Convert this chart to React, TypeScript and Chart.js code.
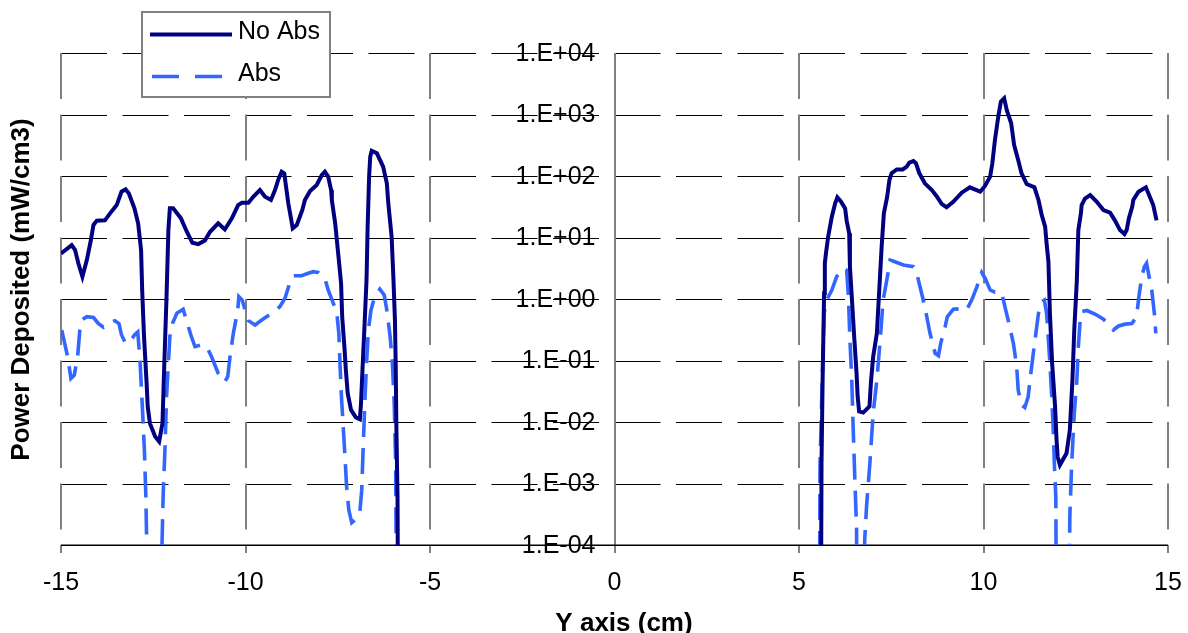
import { useEffect, useRef } from "react";
import { Chart, registerables } from "chart.js";

Chart.register(...registerables);

const FONT = "'Liberation Sans', Arial, Helvetica, sans-serif";

const seriesNames = ["No Abs", "Abs"];
const seriesColors = ["#000080", "#3366FF"];

const xTicks = [-15, -10, -5, 0, 5, 10, 15];
const yTickValues = [1e4, 1e3, 1e2, 1e1, 1e0, 1e-1, 1e-2, 1e-3, 1e-4];
const yTickLabels = ["1.E+04", "1.E+03", "1.E+02", "1.E+01", "1.E+00", "1.E-01", "1.E-02", "1.E-03", "1.E-04"];

const xTitle = "Y axis (cm)";
const yTitle = "Power Deposited (mW/cm3)";

// Power deposited without absorber (null marks the gap between the two halves)
const noAbsX = [
  -15.0, -14.71, -14.62, -14.53, -14.42, -14.3, -14.19, -14.12, -14.03, -13.81, -13.67, -13.49, -13.36, -13.25,
  -13.16, -13.01, -12.91, -12.83, -12.8, -12.75, -12.68, -12.65, -12.59, -12.45, -12.34, -12.25, -12.2, -12.14,
  -12.09, -12.05, -11.96, -11.75, -11.59, -11.44, -11.28, -11.1, -10.96, -10.74, -10.56, -10.37, -10.2, -10.1,
  -9.92, -9.79, -9.61, -9.47, -9.31, -9.2, -9.11, -9.02, -8.95, -8.84, -8.72, -8.61, -8.46, -8.39, -8.25, -8.07,
  -7.93, -7.85, -7.76, -7.68, -7.66, -7.57, -7.48, -7.41, -7.38, -7.32, -7.28, -7.23, -7.14, -7.01, -6.9, -6.87,
  -6.83, -6.78, -6.72, -6.69, -6.65, -6.62, -6.58, -6.44, -6.27, -6.17, -6.13, -6.04, -5.99, -5.95, -5.93, -5.91,
  -5.88, -5.86,
  0,
  5.59, 5.61, 5.64, 5.66, 5.68, 5.7, 5.73, 5.79, 5.89, 5.98, 6.04, 6.13, 6.25, 6.29, 6.36, 6.38, 6.43, 6.49, 6.56,
  6.59, 6.63, 6.74, 6.91, 6.95, 7.01, 7.11, 7.15, 7.2, 7.24, 7.3, 7.39, 7.45, 7.51, 7.65, 7.81, 7.92, 7.99, 8.1,
  8.17, 8.26, 8.41, 8.6, 8.73, 8.87, 9.0, 9.18, 9.41, 9.63, 9.91, 10.04, 10.18, 10.24, 10.31, 10.4, 10.47, 10.56,
  10.63, 10.75, 10.83, 10.94, 11.03, 11.17, 11.38, 11.49, 11.58, 11.67, 11.71, 11.76, 11.8, 11.86, 11.94, 11.98,
  12.01, 12.07, 12.25, 12.34, 12.41, 12.46, 12.53, 12.57, 12.64, 12.66, 12.75, 12.89, 13.07, 13.25, 13.43, 13.56,
  13.7, 13.82, 13.88, 13.94, 14.03, 14.06, 14.2, 14.4, 14.47, 14.6, 14.69,
];
const noAbsY = [
  5.5, 7.5, 6.3, 3.8, 2.3, 4.3, 9.1, 16, 18.8, 19, 24.7, 33.7, 55.6, 60.7,
  52, 29.8, 17, 6.3, 1.4, 0.244, 0.0427, 0.0178, 0.0095, 0.0058, 0.0048, 0.0095, 0.09, 1.09,
  13.2, 29.8, 29.8, 20.5, 12.4, 8.2, 7.8, 8.9, 12.4, 17, 13.5, 20.5, 33.7, 36.8,
  36.8, 46, 59, 46, 40.7, 59, 88, 117, 110, 36, 14.1, 16, 28, 40.7, 57, 71.5,
  104, 117, 97.5, 59, 40.7, 17, 4.9, 1.8, 0.515, 0.168, 0.07, 0.0293, 0.0157, 0.0119, 0.0111, 0.0201,
  0.07, 0.313, 2.04, 15, 97.5, 206, 257, 234, 142, 76, 36, 10.3, 2.04, 0.456, 0.09, 0.0074,
  0.0006, 0.000001,
  null,
  0.000001, 0.0021, 0.048, 0.244, 1.24, 3.8, 5.5, 10.3, 21.8, 36, 45, 39, 29.8, 19, 11.7, 3.35, 1.09, 0.277, 0.062,
  0.0257, 0.0148, 0.0142, 0.018, 0.045, 0.115, 0.277, 0.75, 2.62, 7.1, 24.7, 46, 86, 111, 128, 128, 142, 165, 175,
  161, 111, 76, 59, 47, 35, 31, 38, 53.5, 65.5, 55.6, 69, 97.5, 161, 385, 920, 1615, 1830,
  1180, 720, 319, 182, 111, 74, 65.5, 40.7, 23, 15, 8.0, 4.04, 0.585, 0.09, 0.0178, 0.0051,
  0.0027, 0.002, 0.0031, 0.0074, 0.048, 0.313, 2.04, 13.2, 24.7, 33.7, 43, 49, 38, 28, 25.4, 19,
  13.2, 11.4, 13.2, 20.5, 31.6, 40.7, 55.6, 65.5, 52, 33.7, 19,
];

// Power deposited with absorber
const absX = [
  -14.98, -14.82, -14.73, -14.64, -14.55, -14.49, -14.44, -14.3, -14.12, -13.99, -13.85, -13.72, -13.54, -13.43,
  -13.36, -13.25, -13.13, -13.01, -12.92, -12.86, -12.8, -12.74, -12.7, -12.68, -12.66, -12.29, -12.26, -12.23,
  -12.18, -12.14, -12.09, -12.05, -11.98, -11.86, -11.69, -11.59, -11.48, -11.37, -11.19, -11.05, -10.92, -10.74,
  -10.56, -10.48, -10.42, -10.33, -10.21, -10.18, -10.09, -10.01, -9.92, -9.74, -9.56, -9.29, -9.07, -8.93, -8.79,
  -8.7, -8.48, -8.3, -8.16, -8.03, -7.85, -7.76, -7.62, -7.53, -7.47, -7.44, -7.4, -7.32, -7.26, -7.2, -7.12,
  -6.99, -6.9, -6.85, -6.81, -6.76, -6.72, -6.67, -6.6, -6.51, -6.36, -6.24, -6.17, -6.08, -6.02, -5.97, -5.93,
  -5.9,
  0,
  5.55, 5.57, 5.63, 5.68, 5.75, 5.89, 6.02, 6.2, 6.29, 6.34, 6.38, 6.43, 6.47, 6.52, 6.56, 6.58, 6.76, 6.78, 6.83,
  6.92, 7.01, 7.11, 7.2, 7.28, 7.38, 7.47, 7.6, 7.83, 8.1, 8.19, 8.28, 8.41, 8.48, 8.55, 8.69, 8.78, 8.84, 8.96,
  9.02, 9.18, 9.45, 9.54, 9.68, 9.82, 9.95, 10.04, 10.18, 10.31, 10.49, 10.58, 10.69, 10.81, 10.9, 10.94, 11.03,
  11.12, 11.21, 11.26, 11.35, 11.42, 11.49, 11.58, 11.65, 11.71, 11.76, 11.8, 11.85, 11.89, 11.92, 11.96, 11.98,
  12.3, 12.34, 12.39, 12.46, 12.53, 12.57, 12.62, 12.66, 12.8, 13.02, 13.25, 13.52, 13.66, 13.84, 14.02, 14.15,
  14.21, 14.29, 14.36, 14.42, 14.47, 14.56, 14.63, 14.67,
];
const absY = [
  0.313, 0.115, 0.051, 0.058, 0.115, 0.313, 0.456, 0.515, 0.5, 0.4, 0.347, 0.4, 0.444, 0.4,
  0.26, 0.19, 0.2, 0.26, 0.29, 0.102, 0.0201, 0.0035, 0.0006, 0.00013, 0.000001, 0.000001, 0.00012, 0.00069,
  0.004, 0.0257, 0.09, 0.244, 0.4, 0.585, 0.68, 0.43, 0.26, 0.168, 0.179, 0.168, 0.115, 0.062,
  0.045, 0.055, 0.115, 0.277, 0.66, 1.09, 0.96, 0.66, 0.444, 0.378, 0.456, 0.585, 0.75, 1.03, 1.91,
  2.39, 2.39, 2.62, 2.78, 2.7, 2.17, 1.4, 0.85, 0.62, 0.277, 0.09, 0.0257, 0.004, 0.00089, 0.00037, 0.00023,
  0.00027, 0.00035, 0.00078, 0.004, 0.0257, 0.09, 0.313, 0.66, 1.03, 1.44, 1.16, 0.66, 0.244, 0.09, 0.0201, 0.0021,
  0.000001,
  null,
  0.000001, 0.002, 0.05, 0.585, 0.96, 1.4, 2.3, 3.16, 2.96, 1.09, 0.215, 0.048, 0.0074, 0.00088, 0.00019, 0.000001,
  0.000001, 0.00012, 0.00042,
  0.0021, 0.0139, 0.048, 0.215, 0.96, 2.04, 4.3, 4.04, 3.57, 3.35, 2.62, 1.58, 0.75, 0.456, 0.277, 0.131, 0.12, 0.19,
  0.355, 0.515, 0.68, 0.7, 0.66, 0.96, 1.58, 2.7, 2.2, 1.4, 1.29, 1.28, 0.75, 0.4, 0.19, 0.079, 0.033, 0.0189,
  0.0172, 0.0257, 0.048, 0.131, 0.277, 0.585, 0.9, 0.96, 0.585, 0.215, 0.09, 0.0257, 0.0074, 0.0021, 0.0006,
  0.000001, 0.000001, 0.0003, 0.0021, 0.0139, 0.048, 0.168, 0.456, 0.62, 0.65, 0.57, 0.47, 0.313, 0.364, 0.39,
  0.4, 0.515, 1.09, 2.3, 3.35, 3.8, 2.62, 1.4, 0.585, 0.277,
];

const toPoints = (xs: number[], ys: (number | null)[]) => xs.map((x, i) => ({ x, y: ys[i] }));

// Excel-style frame: dashed gridlines, axis through zero with its labels, titles and legend box
const framePlugin = {
  id: "excelFrame",
  beforeDatasetsDraw(chart: any) {
    const { ctx, chartArea } = chart;
    const { left, right, top, bottom } = chartArea;
    const xs = chart.scales.x;
    const ys = chart.scales.y;
    ctx.save();

    ctx.strokeStyle = "#000000";
    ctx.lineWidth = 1.2;
    ctx.setLineDash([46, 15.5]);
    yTickValues.forEach((v) => {
      if (v <= 1e-4) return;
      const py = Math.round(ys.getPixelForValue(v)) + 0.5;
      ctx.beginPath();
      ctx.moveTo(left, py);
      ctx.lineTo(right, py);
      ctx.stroke();
    });

    ctx.strokeStyle = "#808080";
    ctx.lineWidth = 2;
    xTicks.forEach((t) => {
      if (t === 0) return;
      const px = Math.round(xs.getPixelForValue(t));
      ctx.beginPath();
      ctx.moveTo(px, top);
      ctx.lineTo(px, bottom);
      ctx.stroke();
    });

    ctx.setLineDash([]);
    xTicks.forEach((t) => {
      const px = Math.round(xs.getPixelForValue(t));
      ctx.beginPath();
      ctx.moveTo(px, bottom);
      ctx.lineTo(px, bottom + 8);
      ctx.stroke();
    });
    const x0 = Math.round(xs.getPixelForValue(0));
    ctx.beginPath();
    ctx.moveTo(x0, top);
    ctx.lineTo(x0, bottom + 8);
    ctx.stroke();

    ctx.strokeStyle = "#000000";
    ctx.lineWidth = 1.5;
    const yb = Math.round(ys.getPixelForValue(1e-4)) + 0.25;
    ctx.beginPath();
    ctx.moveTo(left, yb);
    ctx.lineTo(right, yb);
    ctx.stroke();

    ctx.fillStyle = "#000000";
    ctx.font = `25px ${FONT}`;
    ctx.textAlign = "right";
    ctx.textBaseline = "middle";
    yTickValues.forEach((v, i) => {
      ctx.fillText(yTickLabels[i], x0 - 19.5, ys.getPixelForValue(v) + 1);
    });

    ctx.font = `bold 26px ${FONT}`;
    ctx.textAlign = "center";
    ctx.textBaseline = "alphabetic";
    ctx.fillText(xTitle, (left + right) / 2 + 9.5, 631);
    ctx.translate(28.6, (top + bottom) / 2 - 9.5);
    ctx.rotate(-Math.PI / 2);
    ctx.fillText(yTitle, 0, 0);
    ctx.restore();
  },
  afterDraw(chart: any) {
    const { ctx } = chart;
    ctx.save();
    ctx.fillStyle = "#ffffff";
    ctx.fillRect(142, 12, 188, 85);
    ctx.strokeStyle = "#808080";
    ctx.lineWidth = 2;
    ctx.strokeRect(142, 12, 188, 85);

    const rows = [34.5, 76.5];
    chart.data.datasets.forEach((ds: any, i: number) => {
      ctx.strokeStyle = ds.borderColor;
      ctx.lineWidth = ds.borderWidth;
      ctx.setLineDash(i === 1 ? [27, 16] : []);
      ctx.beginPath();
      ctx.moveTo(i === 1 ? 152 : 150, rows[i]);
      ctx.lineTo(i === 1 ? 223 : 232, rows[i]);
      ctx.stroke();
      ctx.setLineDash([]);
      ctx.fillStyle = "#000000";
      ctx.font = `25px ${FONT}`;
      ctx.textAlign = "left";
      ctx.textBaseline = "middle";
      ctx.fillText(ds.label, 238, rows[i] - 2);
    });
    ctx.restore();
  },
};

export default function App() {
  const canvasRef = useRef<HTMLCanvasElement | null>(null);

  useEffect(() => {
    const canvas = canvasRef.current;
    if (!canvas) return;
    const chart = new Chart(canvas, {
      type: "scatter",
      data: {
        datasets: [
          {
            label: seriesNames[0],
            data: toPoints(noAbsX, noAbsY),
            showLine: true,
            borderColor: seriesColors[0],
            backgroundColor: seriesColors[0],
            borderWidth: 4,
            pointRadius: 0,
            tension: 0,
            spanGaps: false,
          },
          {
            label: seriesNames[1],
            data: toPoints(absX, absY),
            showLine: true,
            borderColor: seriesColors[1],
            backgroundColor: seriesColors[1],
            borderWidth: 3.6,
            borderDash: [26, 11],
            pointRadius: 0,
            tension: 0,
            spanGaps: false,
          },
        ],
      },
      options: {
        responsive: false,
        maintainAspectRatio: false,
        animation: false,
        devicePixelRatio: 1,
        layout: { padding: { top: 53, right: 20, left: 0, bottom: 0 } },
        plugins: {
          legend: { display: false },
          tooltip: { enabled: false },
        },
        scales: {
          x: {
            type: "linear",
            min: -15,
            max: 15,
            grid: { display: false, drawTicks: true, tickLength: 8 },
            border: { display: false },
            ticks: {
              stepSize: 5,
              autoSkip: false,
              maxRotation: 0,
              padding: 15,
              color: "#000000",
              font: { family: FONT, size: 25 },
            },
            afterFit: (scale: any) => {
              scale.height = 88;
              scale.paddingLeft = 0;
              scale.paddingRight = 0;
            },
          },
          y: {
            type: "logarithmic",
            min: 1e-4,
            max: 1e4,
            grid: { display: false },
            border: { display: false },
            ticks: { display: false },
            afterFit: (scale: any) => {
              scale.width = 61;
            },
          },
        },
      },
      plugins: [framePlugin],
    });
    return () => chart.destroy();
  }, []);

  return (
    <div style={{ position: "fixed", left: 0, top: 0, width: 1188, height: 633, background: "#ffffff" }}>
      <canvas ref={canvasRef} width={1188} height={633} style={{ display: "block", width: 1188, height: 633 }} />
    </div>
  );
}
